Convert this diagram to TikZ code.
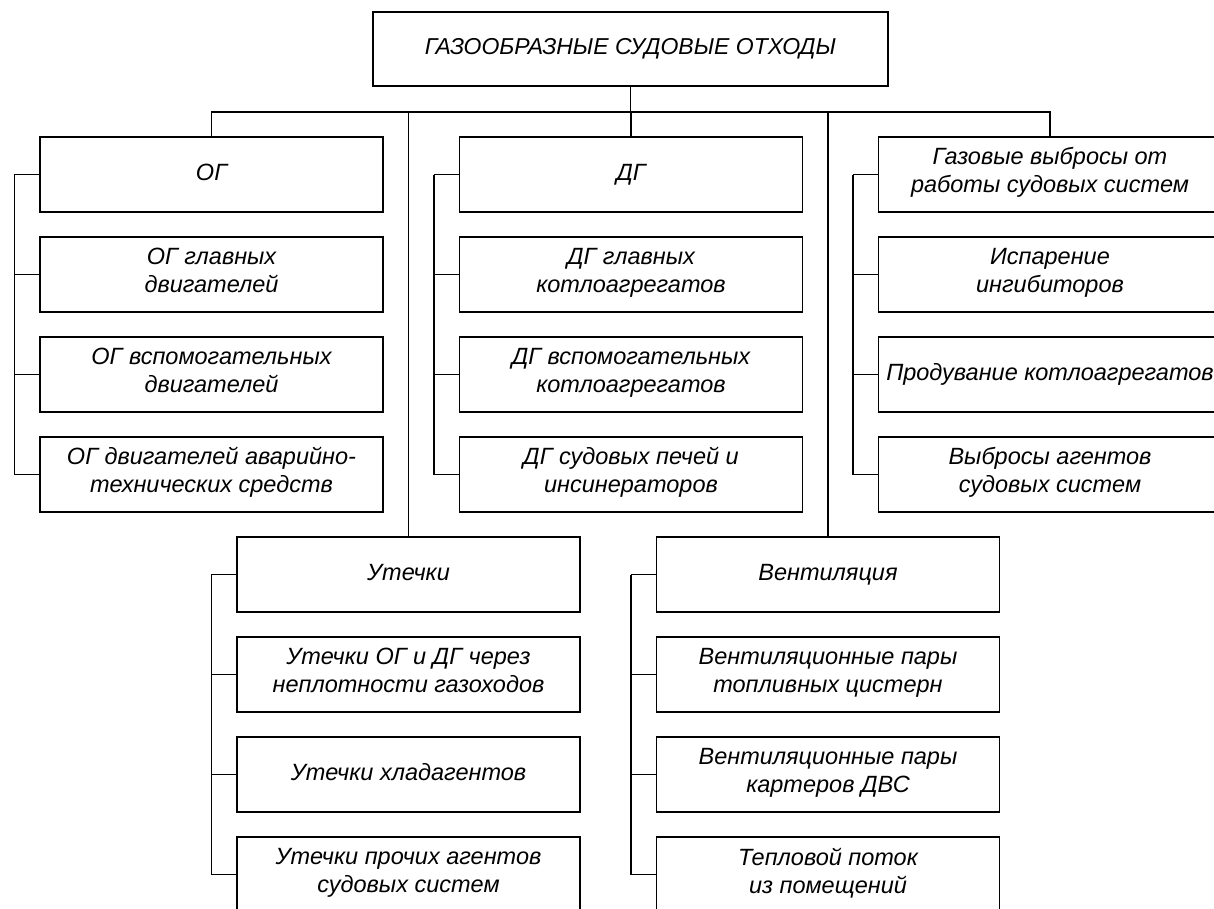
\documentclass[tikz,border=0pt]{standalone}
\usepackage{fontspec}
\setmainfont{Liberation Sans}
\tikzset{
  every picture/.style={x=1pt,y=-1pt},
  box/.style={draw, line width=1.2pt, rectangle, minimum width=343pt,
    minimum height=75pt, inner sep=0pt, align=center,
    font=\fontsize{23.5}{28}\selectfont\itshape,
    execute at begin node=\strut, execute at end node=\strut},
  link/.style={line width=1.2pt}
}
\begin{document}
\begin{tikzpicture}
\clip (0,0) rectangle (1214,908);
\fill[white] (0,0) rectangle (1214,908);

% root
\node[box, minimum width=515pt, minimum height=74pt,
  font=\fontsize{23}{28}\selectfont\itshape] (top) at (630.5,49)
  {ГАЗООБРАЗНЫЕ СУДОВЫЕ ОТХОДЫ};

% upper groups
\node[box] (og)  at (211.5,174.5) {ОГ};
\node[box] (og2) at (211.5,274.5) {ОГ главных\\двигателей};
\node[box] (og3) at (211.5,374.5) {ОГ вспомогательных\\двигателей};
\node[box] (og4) at (211.5,474.5) {ОГ двигателей аварийно-\\технических средств};

\node[box] (dg)  at (631,174.5) {ДГ};
\node[box] (dg2) at (631,274.5) {ДГ главных\\котлоагрегатов};
\node[box] (dg3) at (631,374.5) {ДГ вспомогательных\\котлоагрегатов};
\node[box] (dg4) at (631,474.5) {ДГ судовых печей и\\инсинераторов};

\node[box] (gs)  at (1050,174.5) {Газовые выбросы от\\работы судовых систем};
\node[box] (gs2) at (1050,274.5) {Испарение\\ингибиторов};
\node[box] (gs3) at (1050,374.5) {Продувание котлоагрегатов};
\node[box] (gs4) at (1050,474.5) {Выбросы агентов\\судовых систем};

% lower groups
\node[box] (ut)  at (408.5,574.5) {Утечки};
\node[box] (ut2) at (408.5,674.5) {Утечки ОГ и ДГ через\\неплотности газоходов};
\node[box] (ut3) at (408.5,774.5) {Утечки хладагентов};
\node[box] (ut4) at (408.5,874.5) {Утечки прочих агентов\\судовых систем};

\node[box] (vn)  at (828,574.5) {Вентиляция};
\node[box] (vn2) at (828,674.5) {Вентиляционные пары\\топливных цистерн};
\node[box] (vn3) at (828,774.5) {Вентиляционные пары\\картеров ДВС};
\node[box] (vn4) at (828,874.5) {Тепловой поток\\из помещений};

% main bus
\coordinate (bus) at (0,112);
\draw[link] (top.south) -- (top.south |- bus);
\draw[link] (og.north) -- (og.north |- bus) -- (gs.north |- bus) -- (gs.north);
\draw[link] (dg.north) -- (dg.north |- bus);
\draw[link] (ut.north) -- (ut.north |- bus);
\draw[link] (vn.north) -- (vn.north |- bus);

% side buses of each group
\foreach \g in {og,dg,gs,ut,vn}{
  \draw[link] ([xshift=-25pt]\g.west) -- ([xshift=-25pt]\g4.west);
  \foreach \k in {,2,3,4}{
    \draw[link] (\g\k.west) -- ++(-25,0);
  }
}
\end{tikzpicture}
\end{document}
